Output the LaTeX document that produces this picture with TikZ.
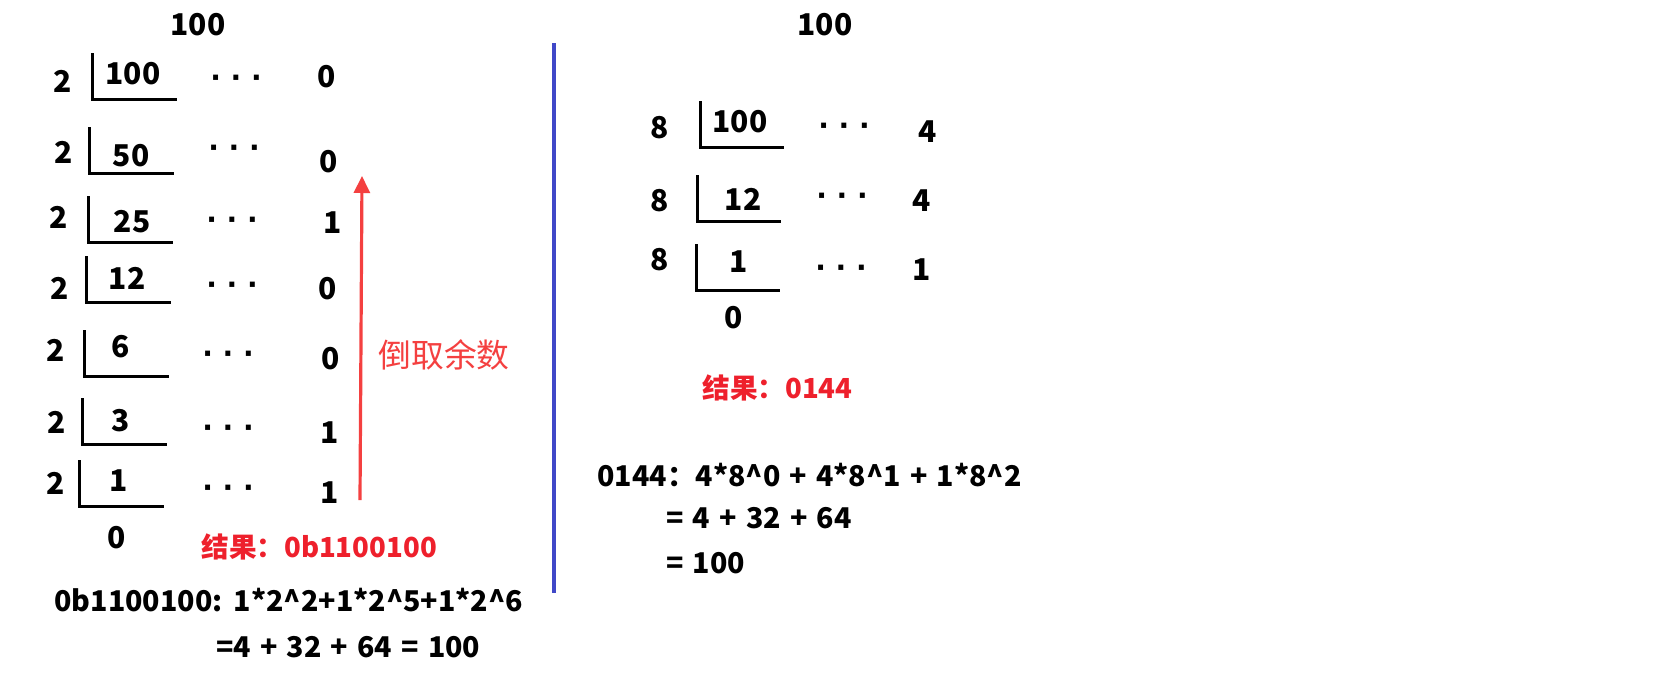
\documentclass[tikz,border=0pt]{standalone}
\usepackage{fontspec}
\setmainfont{Noto Sans CJK SC}
\newfontfamily\calcfont{Noto Sans CJK SC}[WordSpace=1.4]
\newfontfamily\dotsfont{DejaVu Sans}
\usetikzlibrary{arrows.meta}
\definecolor{resred}{RGB}{238,32,44}
\definecolor{arrred}{RGB}{244,64,64}
\definecolor{sepblue}{RGB}{64,72,200}
\tikzset{
  num/.style={font=\bfseries\fontsize{15}{18}\selectfont, inner sep=0pt},
  ell/.style={font=\dotsfont\bfseries\fontsize{14}{16}\selectfont, inner sep=0pt, yshift=-2pt},
  bracket/.style={line width=1.5pt},
  res/.style={font=\bfseries\fontsize{13.8}{16}\selectfont, inner sep=0pt, text=resred, anchor=west},
  calc/.style={font=\calcfont\bfseries\fontsize{14.3}{17}\selectfont, inner sep=0pt, anchor=west},
}
\begin{document}
\begin{tikzpicture}[x=0.5pt,y=-0.5pt]
  \useasboundingbox (0,0) rectangle (1676,682);
  % 十进制 100 -> 二进制
  \node[num] (bin-top) at (198,25) {100};
  \foreach \i/\dx/\dy/\bx/\by/\q/\qx/\qy/\ex/\ey/\r/\rx/\ry in {
      1/63/81/92/99/100/133/74/236/77/0/327/77,
      2/64/152/89/173/50/131/156/234/147/0/329/162,
      3/59/217/88/242/25/132/222/232/219/1/333/223,
      4/60/288/86/302/12/127/278/232/284/0/328/289,
      5/56/350/84/376/6/121/347/228/353/0/331/359,
      6/57/422/82/444/3/121/421/228/427/1/330/433,
      7/56/483/79/506/1/119/481/228/487/1/330/493}
  {
    \node[num] (bin-d\i) at (\dx,\dy) {2};
    \draw[bracket] (\bx,\by-46) -- (\bx,\by) -- ++(85,0);
    \node[num] (bin-q\i) at (\qx,\qy) {\q};
    \node[ell] (bin-e\i) at (\ex,\ey) {· · ·};
    \node[num] (bin-r\i) at (\rx,\ry) {\r};
  }
  \node[num] (bin-end) at (117,538) {0};
  % 倒取余数
  \coordinate (arr-s) at (360,500);
  \coordinate (arr-e) at (362,176);
  \draw[arrred, line width=1.6pt, -{Triangle[width=8pt,length=8.5pt]}] (arr-s) -- (arr-e);
  \node[anchor=west, inner sep=0pt, text=arrred, font=\fontsize{16.4}{19}\selectfont] (bin-tip) at (378,355) {倒取余数};
  \node[res] (bin-res) at (201,547) {结果：0b1100100};
  \node[calc] (bin-calc1) at (54,600) {0b1100100: 1*2\textasciicircum2+1*2\textasciicircum5+1*2\textasciicircum6};
  \node[calc] (bin-calc2) at (216,647) {=4 + 32 + 64 = 100};
  % 分隔线
  \coordinate (sep-t) at (554,43);
  \coordinate (sep-b) at (554,593);
  \draw[sepblue, line width=2pt] (sep-t) -- (sep-b);
  % 十进制 100 -> 八进制
  \node[num] (oct-top) at (825,25) {100};
  \foreach \i/\dy/\bx/\by/\q/\qx/\qy/\ex/\ey/\r/\rx/\ry in {
      1/128/700/147/100/740/122/844/125/4/928/132,
      2/201/697/221/12/743/199/842/195/4/922/201,
      3/260/696/290/1/739/262/841/267/1/922/270}
  {
    \node[num] (oct-d\i) at (660,\dy) {8};
    \draw[bracket] (\bx,\by-46) -- (\bx,\by) -- ++(84,0);
    \node[num] (oct-q\i) at (\qx,\qy) {\q};
    \node[ell] (oct-e\i) at (\ex,\ey) {· · ·};
    \node[num] (oct-r\i) at (\rx,\ry) {\r};
  }
  \node[num] (oct-end) at (734,318) {0};
  \node[res] (oct-res) at (702,388) {结果：0144};
  \node[calc] (oct-calc1) at (597,475) {0144：4*8\textasciicircum0 + 4*8\textasciicircum1 + 1*8\textasciicircum2};
  \node[calc] (oct-calc2) at (666,518) {= 4 + 32 + 64};
  \node[calc] (oct-calc3) at (666,563) {= 100};
\end{tikzpicture}
\end{document}
